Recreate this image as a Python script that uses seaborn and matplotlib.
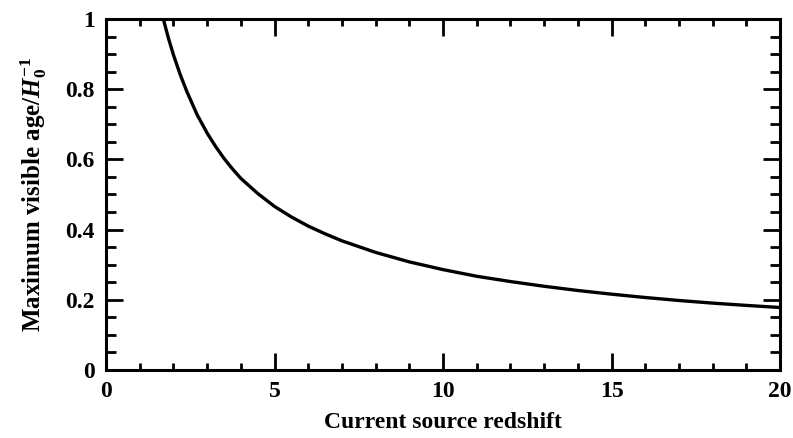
import matplotlib
matplotlib.use("Agg")
import matplotlib.pyplot as plt
import seaborn as sns
import pandas as pd
from matplotlib.ticker import MultipleLocator

# Data
redshift = [1.7, 1.85, 2.0, 2.2, 2.4, 2.7, 3.0, 3.25, 3.5, 3.75, 4.0, 4.5, 5.0, 5.5,
            6.0, 6.5, 7.0, 8.0, 9.0, 10.0, 11.0, 12.0, 13.0, 14.0, 15.0, 16.0,
            17.0, 18.0, 19.0, 20.0]
max_age = [1.0, 0.946, 0.898, 0.842, 0.793, 0.728, 0.675, 0.637, 0.603, 0.573, 0.546,
           0.503, 0.466, 0.436, 0.410, 0.388, 0.368, 0.335, 0.308, 0.286, 0.267,
           0.252, 0.2385, 0.2265, 0.216, 0.2065, 0.198, 0.1905, 0.184, 0.178]

x_ticks = [0, 5, 10, 15, 20]
y_ticks = [0, 0.2, 0.4, 0.6, 0.8, 1.0]
y_ticklabels = ["0", "0.2", "0.4", "0.6", "0.8", "1"]

sns.set_theme(style="white")
plt.rcParams["font.family"] = ["Liberation Serif", "DejaVu Serif"]
plt.rcParams["mathtext.fontset"] = "custom"
plt.rcParams["mathtext.rm"] = "Liberation Serif:bold"
plt.rcParams["mathtext.it"] = "Liberation Serif:italic:bold"
plt.rcParams["mathtext.bf"] = "Liberation Serif:bold"

df = pd.DataFrame({"z": redshift, "age": max_age})

fig = plt.figure(figsize=(7.93, 4.38), dpi=100)
ax = fig.add_axes([0.1337, 0.1553, 0.8499, 0.8013])
sns.lineplot(data=df, x="z", y="age", ax=ax, color="black", linewidth=2.4)

ax.set_xlim(0, 20)
ax.set_ylim(0, 1)
ax.set_xticks(x_ticks)
ax.set_xticklabels([str(t) for t in x_ticks])
ax.set_yticks(y_ticks)
ax.set_yticklabels(y_ticklabels)
ax.xaxis.set_minor_locator(MultipleLocator(1))
ax.yaxis.set_minor_locator(MultipleLocator(0.05))

ax.tick_params(which="both", direction="in", top=True, right=True,
               bottom=True, left=True, width=2, color="black",
               labelsize=17, labelcolor="black")
ax.tick_params(which="major", length=12, pad=8)
ax.tick_params(axis="x", which="minor", length=5)
ax.tick_params(axis="y", which="minor", length=7)
for lab in ax.get_xticklabels() + ax.get_yticklabels():
    lab.set_fontweight("bold")

for s in ax.spines.values():
    s.set_linewidth(2.2)
    s.set_color("black")
    s.set_visible(True)

ax.set_xlabel("Current source redshift", fontsize=17, fontweight="bold",
              color="black", labelpad=7)
ax.set_ylabel(r"Maximum visible age/$\mathit{H}_{\mathit{0}}^{-1}$", fontsize=18,
              fontweight="bold", color="black", labelpad=12)

fig.savefig("out.png", dpi=100)
